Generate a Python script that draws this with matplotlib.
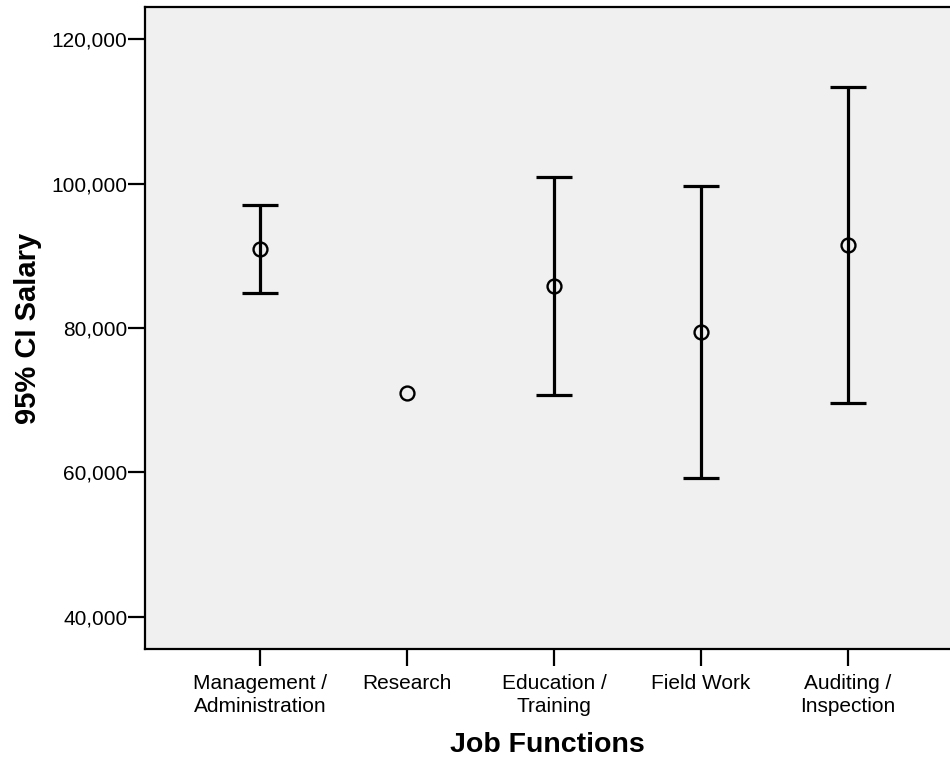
import matplotlib
matplotlib.use("Agg")
import matplotlib.pyplot as plt
from matplotlib.ticker import FuncFormatter

plt.rcParams['font.family'] = ['Liberation Sans', 'DejaVu Sans']

categories = ["Management /\nAdministration", "Research", "Education /\nTraining",
              "Field Work", "Auditing /\nInspection"]
means = [91000, 71000, 85850, 79450, 91550]
lower = [84850, 71000, 70650, 59150, 69650]
upper = [97100, 71000, 100900, 99650, 113350]

fig = plt.figure(figsize=(9.5, 7.62), dpi=100)
ax = fig.add_axes([0.1526, 0.1483, 0.8474, 0.8421])
ax.set_facecolor('#f0f0f0')

x = list(range(len(categories)))

# Only groups with a non-degenerate interval get a whisker
ex, em, elo, ehi = [], [], [], []
for xi, m, lo, hi in zip(x, means, lower, upper):
    if hi > lo:
        ex.append(xi)
        em.append(m)
        elo.append(m - lo)
        ehi.append(hi - m)
ax.errorbar(ex, em, yerr=[elo, ehi], fmt='none', ecolor='black', elinewidth=2.3,
            capsize=13.3, capthick=2.3, zorder=2)
ax.plot(x, means, 'o', markersize=10, markerfacecolor='none', markeredgecolor='black',
        markeredgewidth=1.7, zorder=3)

ax.set_xlim(-0.782, 4.694)
ax.set_ylim(35525, 124434)
ax.set_yticks([40000, 60000, 80000, 100000, 120000])
ax.yaxis.set_major_formatter(FuncFormatter(lambda v, p: f"{int(v):,}"))
ax.set_xticks(x)
ax.set_xticklabels(categories, fontsize=15, linespacing=1.25)
ax.tick_params(axis='y', labelsize=15, length=12, width=1.6, pad=0.5)
ax.tick_params(axis='x', length=12, width=1.6, pad=6)

for side in ['left', 'top', 'bottom']:
    ax.spines[side].set_linewidth(1.6)
ax.spines['right'].set_visible(False)

ax.set_ylabel("95% CI Salary", fontsize=21, fontweight='bold', labelpad=7)
ax.set_xlabel("Job Functions", fontsize=20.5, fontweight='bold', labelpad=12)

fig.savefig("out.png", dpi=100)
